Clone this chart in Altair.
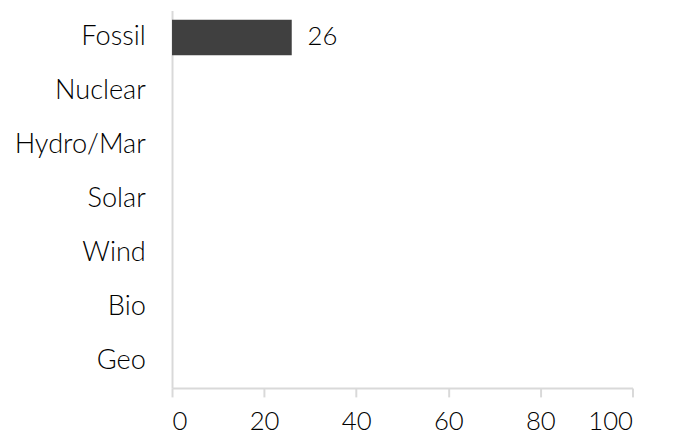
import altair as alt
import pandas as pd

categories = ["Fossil", "Nuclear", "Hydro/Mar", "Solar", "Wind", "Bio", "Geo"]
values = [26, None, None, None, None, None, None]
labels = ["26", "", "", "", "", "", ""]

df = pd.DataFrame({"cat": categories, "val": values, "lab": labels})

FONT = "Lato"
W = 300
FS = 26
FS_CAT = 27.5
base = alt.Chart(df)

y_enc = alt.Y("cat:N", sort=categories, title=None,
              scale=alt.Scale(paddingInner=0.34, paddingOuter=0.17),
              axis=alt.Axis(domainColor="#d9d9d9", domainWidth=2, ticks=False,
                            labelFont=FONT, labelFontSize=FS_CAT, labelFontWeight=W,
                            labelColor="#000000", labelPadding=27, grid=False))
x_enc = alt.X("val:Q", title=None,
              scale=alt.Scale(domain=[0, 100]),
              axis=alt.Axis(values=[0, 20, 40, 60, 80, 100], domainColor="#d9d9d9",
                            domainWidth=2, tickColor="#d9d9d9", tickWidth=2, tickSize=9,
                            labelFont=FONT, labelFontSize=FS, labelFontWeight=W,
                            labelColor="#000000", labelPadding=12, grid=False))

bars = base.mark_bar(color="#404040").encode(x=x_enc, y=y_enc)
text = base.mark_text(align="left", dx=16, font=FONT, fontSize=FS, fontWeight=W,
                      color="#000000").encode(
    x="val:Q", y=alt.Y("cat:N", sort=categories), text="lab:N")

chart = (bars + text).properties(
    width=466, height=382,
    autosize=alt.AutoSizeParams(type="none"),
    padding={"left": 166, "top": 0, "right": 40, "bottom": 50},
    background="white",
).configure_view(stroke=None, strokeWidth=0)

chart.save("out.html", embed_options={"renderer": "svg", "actions": False})
